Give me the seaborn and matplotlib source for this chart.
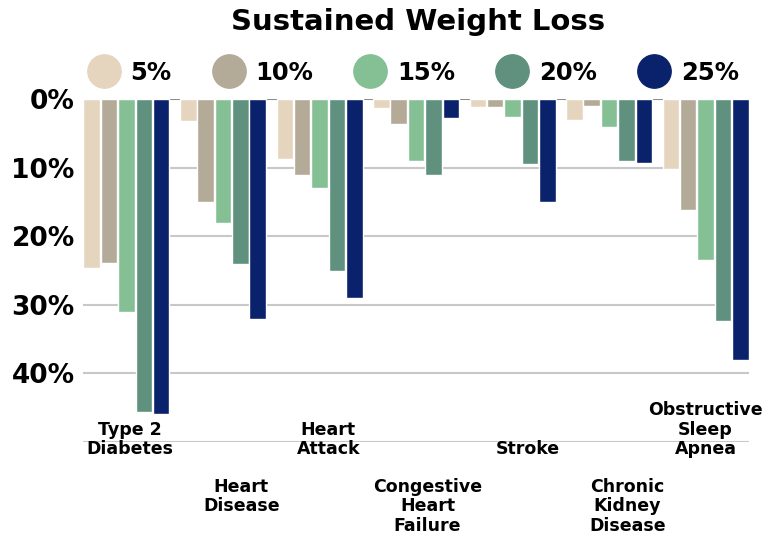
import numpy as np
import pandas as pd
import matplotlib.pyplot as plt
from matplotlib.lines import Line2D
import seaborn as sns

# data (percent of patients with reduced risk)
conditions = ['Type 2\nDiabetes', 'Heart\nDisease', 'Heart\nAttack', 'Congestive\nHeart\nFailure',
              'Stroke', 'Chronic\nKidney\nDisease', 'Obstructive\nSleep\nApnea']
loss_levels = ['5%', '10%', '15%', '20%', '25%']
loss_5 = [24.7, 3.2, 8.8, 1.3, 1.1, 3.1, 10.2]
loss_10 = [23.9, 15.0, 11.0, 3.6, 1.1, 1.0, 16.2]
loss_15 = [31.0, 18.0, 13.0, 9.0, 2.6, 4.0, 23.4]
loss_20 = [45.6, 24.0, 25.0, 11.0, 9.5, 9.0, 32.4]
loss_25 = [45.9, 32.0, 29.0, 2.7, 15.0, 9.3, 38.0]
colors = ['#E6D5BE', '#B4AA98', '#85C095', '#5F917E', '#0A216B']
yticks = [0, 10, 20, 30, 40]

series = [loss_5, loss_10, loss_15, loss_20, loss_25]
rows = []
for lvl, vals in zip(loss_levels, series):
    for cond, v in zip(conditions, vals):
        rows.append({'condition': cond, 'loss': lvl, 'value': v})
df = pd.DataFrame(rows)

sns.set_style('white')
plt.rcParams['font.family'] = ['DejaVu Sans']
plt.rcParams['text.color'] = 'black'
plt.rcParams['ytick.color'] = 'black'

fig = plt.figure(figsize=(7.69, 5.4), dpi=100)
ax = fig.add_axes([0.108, 0.1815, 0.866, 0.635])

for t in yticks[1:] + [50]:
    ax.axhline(t, color='#c8c8c8', lw=1.5, zorder=0)
ax.axhline(0, color='#8c8c8c', lw=1.5, zorder=0)

sns.barplot(data=df, x='condition', y='value', hue='loss', order=conditions,
            hue_order=loss_levels, palette=colors, saturation=1, width=0.9, gap=0.05,
            legend=False, ax=ax, zorder=2)

ax.set_xlim(-0.45, len(conditions) - 0.55)
ax.set_ylim(50, 0)
ax.set_yticks(yticks)
ax.set_yticklabels([f'{t}%' for t in yticks], fontsize=19, fontweight='bold')
ax.tick_params(axis='y', length=0, pad=6)
ax.set_xticks([])
ax.set_xlabel('')
ax.set_ylabel('')
sns.despine(ax=ax, left=True, bottom=True)

# staggered category labels, nudged a little right like the original
nudges = [0.04, 0.19, 0.09, 0.12, 0.16, 0.19, 0.0]
for i, cond in enumerate(conditions):
    if i % 2 == 0:
        ax.text(i + nudges[i], -0.047, cond, transform=ax.get_xaxis_transform(), ha='center',
                va='bottom', fontsize=12.5, fontweight='bold', linespacing=1.1, clip_on=False)
    else:
        ax.text(i + nudges[i], -0.105, cond, transform=ax.get_xaxis_transform(), ha='center',
                va='top', fontsize=12.5, fontweight='bold', linespacing=1.1, clip_on=False)

fig.suptitle('Sustained Weight Loss', x=0.543, y=0.985, fontsize=21, fontweight='bold')

handles = [Line2D([], [], marker='o', ls='', markersize=24, markerfacecolor=c, markeredgecolor=c)
           for c in colors]
fig.legend(handles, loss_levels, loc='center', bbox_to_anchor=(0.532, 0.865), ncol=5,
           frameon=False, prop={'size': 17.5, 'weight': 'bold'}, handletextpad=0.1,
           columnspacing=1.35)

fig.savefig('out.png', dpi=100)
